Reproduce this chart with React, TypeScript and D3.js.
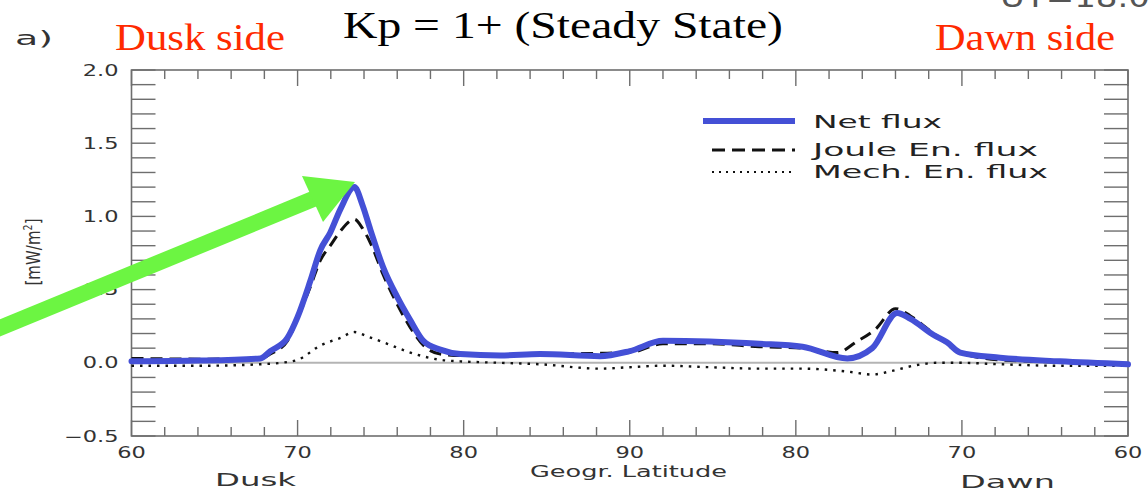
import { useEffect, useRef } from "react";
import * as d3 from "d3";

// position along the pass, degrees from the dusk-side 60° start (0..60), 90° = pole at 30
const netX = [0, 4.15, 7.76, 8.36, 9.39, 9.99, 10.77, 11.37, 11.97, 12.58, 13.42, 13.9, 14.38, 15.16, 16.0, 16.79, 17.57, 18.59, 19.8, 22.2, 24.6, 28.2, 30.0, 32.0, 34.8, 37.8, 40.4, 43.1, 44.6, 46.1, 46.9, 48.3, 49.1, 49.9, 52.3, 55.9, 60];
const netFlux = [0.01, 0.015, 0.03, 0.08, 0.17, 0.31, 0.56, 0.77, 0.89, 1.05, 1.2, 1.08, 0.91, 0.65, 0.45, 0.29, 0.15, 0.09, 0.06, 0.05, 0.06, 0.045, 0.08, 0.15, 0.145, 0.13, 0.11, 0.03, 0.1, 0.34, 0.3, 0.19, 0.14, 0.07, 0.035, 0.01, -0.01];

const jouleX = [0, 4.15, 7.76, 8.36, 9.39, 9.99, 10.77, 11.37, 11.97, 12.58, 13.42, 13.9, 14.38, 15.16, 16.0, 16.79, 17.57, 18.59, 19.8, 22.2, 24.6, 28.2, 30.0, 32.0, 34.8, 37.8, 40.4, 42.5, 43.6, 44.8, 46.0, 46.9, 48.3, 49.9, 52.3, 55.9, 60];
const jouleFlux = [0.03, 0.025, 0.03, 0.06, 0.15, 0.3, 0.52, 0.7, 0.8, 0.9, 0.98, 0.92, 0.82, 0.6, 0.4, 0.24, 0.12, 0.06, 0.05, 0.055, 0.06, 0.065, 0.07, 0.13, 0.13, 0.11, 0.1, 0.07, 0.14, 0.23, 0.37, 0.32, 0.2, 0.07, 0.02, 0.005, -0.005];

const mechX = [0, 4.15, 7.76, 9.0, 10.0, 11.4, 12.58, 13.42, 14.2, 15.4, 16.79, 18.6, 19.8, 22.2, 24.6, 28.2, 30.0, 32.0, 34.8, 37.8, 40.4, 43.1, 44.6, 45.8, 47.3, 48.5, 49.9, 52.3, 55.9, 60];
const mechFlux = [-0.02, -0.02, -0.01, 0.0, 0.02, 0.12, 0.17, 0.21, 0.18, 0.13, 0.07, 0.02, 0.01, 0.0, -0.01, -0.04, -0.03, -0.02, -0.03, -0.04, -0.04, -0.06, -0.08, -0.055, -0.015, 0.0, 0.0, -0.01, -0.02, -0.02];

const latTickPos = [0, 10, 20, 30, 40, 50, 60];
const latTickLabels = ["60", "70", "80", "90", "80", "70", "60"];
const fluxTicks = [-0.5, 0.0, 0.5, 1.0, 1.5, 2.0];

const legendLabels = ["Net flux", "Joule En. flux", "Mech. En. flux"];

const BLUE = "#4450d6";
const AXIS = "#6e6e6e";
const SANS = "DejaVu Sans, Verdana, sans-serif";
const SERIF = "Liberation Serif, Times New Roman, serif";

export default function App() {
  const svgRef = useRef<SVGSVGElement>(null);
  const width = 1148, height = 491;
  const margin = { top: 70, right: 20, bottom: 55, left: 131.5 };

  useEffect(() => {
    const svg = d3.select(svgRef.current);
    svg.selectAll("*").remove();

    const x = d3.scaleLinear().domain([0, 60]).range([margin.left, width - margin.right]);
    const y = d3.scaleLinear().domain([-0.5, 2.0]).range([height - margin.bottom, margin.top]);
    const [x0, x1] = x.range();
    const [y0, y1] = y.range();

    // headers
    svg.append("text").attr("x", 15).attr("y", 45).attr("font-family", SANS).attr("font-size", 20)
      .attr("fill", "#333").attr("textLength", 38).attr("lengthAdjust", "spacingAndGlyphs").text("a)");
    svg.append("text").attr("x", 115).attr("y", 50).attr("font-family", SERIF).attr("font-size", 37)
      .attr("fill", "#ff2a00").attr("textLength", 170).attr("lengthAdjust", "spacingAndGlyphs").text("Dusk side");
    svg.append("text").attr("x", 935).attr("y", 50).attr("font-family", SERIF).attr("font-size", 37)
      .attr("fill", "#ff2a00").attr("textLength", 180).attr("lengthAdjust", "spacingAndGlyphs").text("Dawn side");
    svg.append("text").attr("x", 343).attr("y", 38).attr("font-family", SERIF).attr("font-size", 38)
      .attr("fill", "#000").attr("textLength", 440).attr("lengthAdjust", "spacingAndGlyphs").text("Kp = 1+ (Steady State)");
    svg.append("text").attr("x", 1000).attr("y", 7).attr("font-family", SANS).attr("font-size", 28)
      .attr("fill", "#555").attr("textLength", 150).attr("lengthAdjust", "spacingAndGlyphs").text("UT=18.0");

    const g = svg.append("g");

    // zero line
    g.append("line").attr("x1", x0).attr("x2", x1).attr("y1", y(0)).attr("y2", y(0))
      .attr("stroke", "#b4b4b4").attr("stroke-width", 2);

    // frame
    g.append("rect").attr("x", x0).attr("y", y1).attr("width", x1 - x0).attr("height", y0 - y1)
      .attr("fill", "none").attr("stroke", AXIS).attr("stroke-width", 1.6);

    // x ticks (minor every 2 deg), top and bottom, inward
    d3.range(0, 60.01, 2).forEach(t => {
      const len = t % 10 === 0 ? 16 : 9;
      g.append("line").attr("x1", x(t)).attr("x2", x(t)).attr("y1", y0).attr("y2", y0 - len)
        .attr("stroke", AXIS).attr("stroke-width", 1.4);
      g.append("line").attr("x1", x(t)).attr("x2", x(t)).attr("y1", y1).attr("y2", y1 + len)
        .attr("stroke", AXIS).attr("stroke-width", 1.4);
    });
    // y ticks every 0.1, left and right, inward
    d3.range(-0.5, 2.001, 0.1).forEach(v => {
      g.append("line").attr("x1", x0).attr("x2", x0 + 24).attr("y1", y(v)).attr("y2", y(v))
        .attr("stroke", AXIS).attr("stroke-width", 1.4);
      g.append("line").attr("x1", x1).attr("x2", x1 - 24).attr("y1", y(v)).attr("y2", y(v))
        .attr("stroke", AXIS).attr("stroke-width", 1.4);
    });

    // tick labels
    latTickPos.forEach((t, i) => {
      g.append("text").attr("transform", `translate(${x(t)},${y0 + 22}) scale(1.5,1)`)
        .attr("text-anchor", "middle").attr("font-family", SANS).attr("font-size", 15)
        .attr("fill", "#333").text(latTickLabels[i]);
    });
    fluxTicks.forEach(v => {
      g.append("text").attr("transform", `translate(${x0 - 13},${y(v) + 5.5}) scale(1.5,1)`)
        .attr("text-anchor", "end").attr("font-family", SANS).attr("font-size", 15)
        .attr("fill", "#333").text(v < 0 ? "\u2212" + Math.abs(v).toFixed(1) : v.toFixed(1));
    });

    // axis titles
    g.append("text").attr("x", 530).attr("y", 477).attr("font-family", SANS).attr("font-size", 15)
      .attr("fill", "#333").attr("textLength", 197).attr("lengthAdjust", "spacingAndGlyphs").text("Geogr. Latitude");
    g.append("text").attr("x", 215).attr("y", 486).attr("font-family", SANS).attr("font-size", 18)
      .attr("fill", "#333").attr("textLength", 81).attr("lengthAdjust", "spacingAndGlyphs").text("Dusk");
    g.append("text").attr("x", 960).attr("y", 488).attr("font-family", SANS).attr("font-size", 18)
      .attr("fill", "#333").attr("textLength", 95).attr("lengthAdjust", "spacingAndGlyphs").text("Dawn");
    const yl = g.append("text").attr("transform", `translate(40,252) rotate(-90)`)
      .attr("text-anchor", "middle").attr("font-family", SANS).attr("font-size", 19).attr("fill", "#333")
      .attr("textLength", 67).attr("lengthAdjust", "spacingAndGlyphs");
    yl.append("tspan").text("[mW/m");
    yl.append("tspan").attr("font-size", 12).attr("dy", -8).text("2");
    yl.append("tspan").attr("dy", 8).text("]");

    // series
    const line = d3.line<[number, number]>().x(d => x(d[0])).y(d => y(d[1])).curve(d3.curveMonotoneX);
    const zip = (xs: number[], ys: number[]) => xs.map((v, i) => [v, ys[i]] as [number, number]);

    g.append("path").attr("d", line(zip(mechX, mechFlux))).attr("fill", "none")
      .attr("stroke", "#111").attr("stroke-width", 2.4).attr("stroke-dasharray", "2.5,6");
    g.append("path").attr("d", line(zip(jouleX, jouleFlux))).attr("fill", "none")
      .attr("stroke", "#111").attr("stroke-width", 3).attr("stroke-dasharray", "12,7");
    g.append("path").attr("d", line(zip(netX, netFlux))).attr("fill", "none")
      .attr("stroke", BLUE).attr("stroke-width", 6).attr("stroke-linejoin", "round").attr("stroke-linecap", "round");

    // legend
    const lg = svg.append("g");
    const ly = [121, 150, 172];
    const ty = [128, 156, 178];
    const tl = [129, 225, 235];
    lg.append("line").attr("x1", 703).attr("x2", 795).attr("y1", ly[0]).attr("y2", ly[0])
      .attr("stroke", BLUE).attr("stroke-width", 6);
    lg.append("line").attr("x1", 712).attr("x2", 795).attr("y1", ly[1]).attr("y2", ly[1])
      .attr("stroke", "#111").attr("stroke-width", 3).attr("stroke-dasharray", "13,7");
    lg.append("line").attr("x1", 712).attr("x2", 795).attr("y1", ly[2]).attr("y2", ly[2])
      .attr("stroke", "#111").attr("stroke-width", 2.2).attr("stroke-dasharray", "2,5");
    legendLabels.forEach((s, i) => {
      lg.append("text").attr("x", 813).attr("y", ty[i]).attr("font-family", SANS).attr("font-size", 18)
        .attr("fill", "#222").attr("textLength", tl[i]).attr("lengthAdjust", "spacingAndGlyphs").text(s);
    });

    // green arrow
    const ar = svg.append("g");
    ar.append("line").attr("x1", -5).attr("y1", 330).attr("x2", 318).attr("y2", 197)
      .attr("stroke", "#6cf542").attr("stroke-width", 16);
    ar.append("path").attr("d", "M355,182 L302,176 L323,222 Z").attr("fill", "#6cf542");
  }, []);

  return (
    <svg ref={svgRef} width={width} height={height}
      style={{ position: "absolute", left: 0, top: 0, background: "#fff" }} />
  );
}
